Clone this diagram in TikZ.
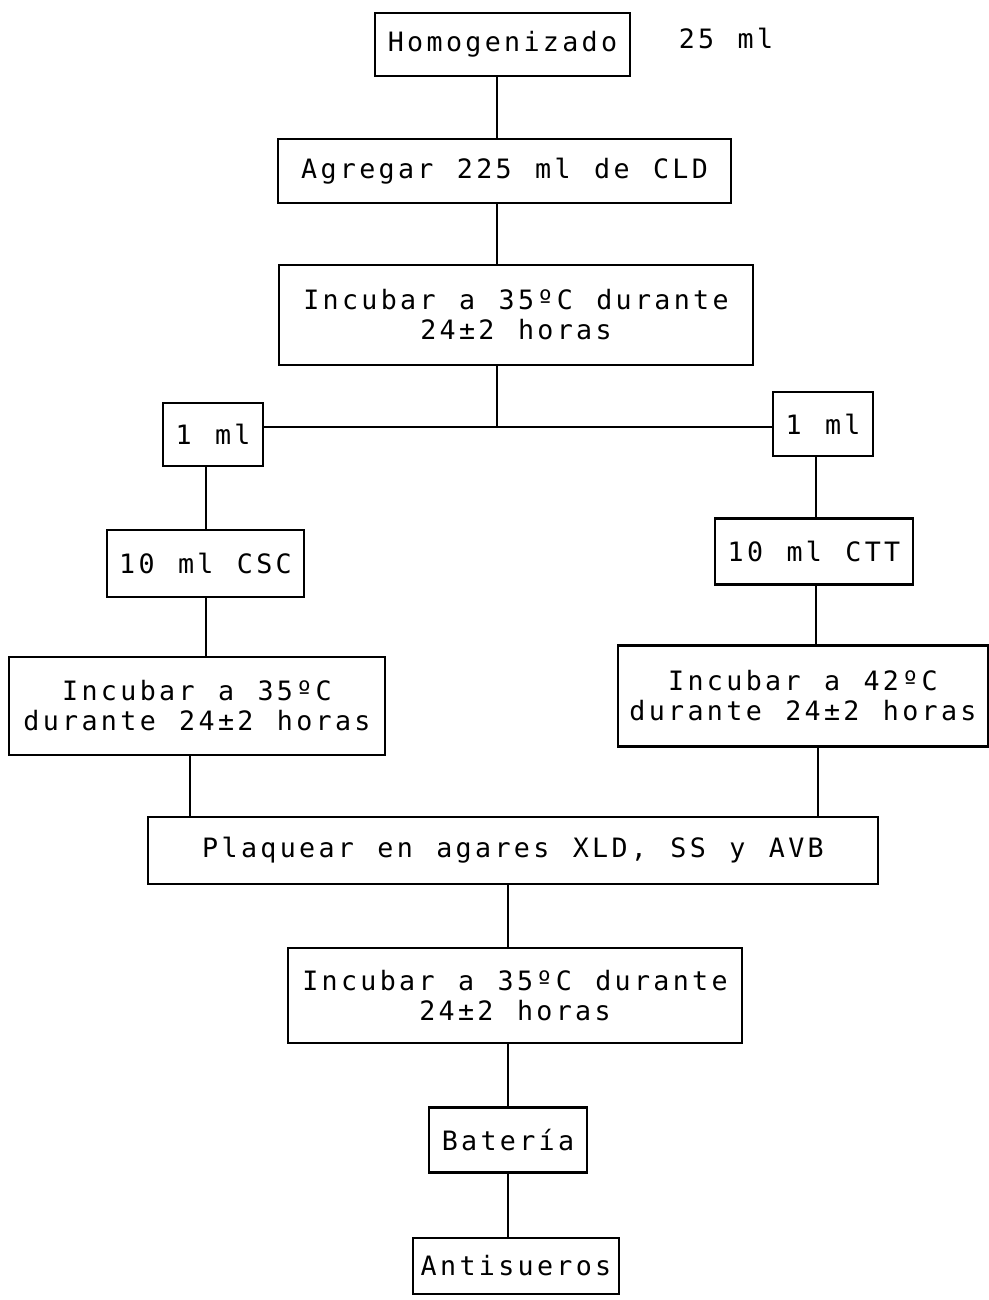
\documentclass[tikz,border=0pt]{standalone}
\usepackage{fontspec}
\newfontfamily\dotmatrix{DejaVu Sans Mono}[LetterSpace=12.5,WordSpace=1.21]

\tikzset{every picture/.style={line width=2.2pt}}
\tikzset{
	box size/.style 2 args={minimum width=#1*0.75pt, minimum height=#2*0.75pt},
	flowbox/.style={draw, rectangle, inner sep=0pt, align=center,
		font=\dotmatrix\fontsize{20}{22.5}\selectfont},
	flowtext/.style={inner sep=0pt, font=\dotmatrix\fontsize{20}{22.5}\selectfont}}

\begin{document}
\begin{tikzpicture}[x=0.75pt,y=0.75pt,yscale=-1,xscale=1]
	\useasboundingbox (0,0) rectangle (989,1300);

	% Column coordinates
	\coordinate (stem) at (497,427);
	\coordinate (stemL) at (206,0);
	\coordinate (stemR) at (816,0);
	\coordinate (dropL) at (190,0);
	\coordinate (dropR) at (818,0);
	\coordinate (stemB) at (508,0);

	% Text Node
	\node[flowbox, box size={255}{63}] (homog) at (502.5,44.5) {Homogenizado};
	% Text Node
	\node[flowtext] (vol) at (726,38) {25 ml};
	% Text Node
	\node[flowbox, box size={453}{64}] (agregar) at (504.5,171) {Agregar 225 ml de CLD};
	% Text Node
	\node[flowbox, box size={474}{100}] (incubA) at (516,315) {Incubar a 35ºC durante\\24±2 horas};
	% Text Node
	\node[flowbox, box size={100}{63}] (unoL) at (213,434.5) {1 ml};
	% Text Node
	\node[flowbox, box size={100}{64}] (unoR) at (823,424) {1 ml};
	% Text Node
	\node[flowbox, box size={197}{67}] (csc) at (205.5,563.5) {10 ml CSC};
	% Text Node
	\node[flowbox, box size={198}{66}] (ctt) at (814,551.5) {10 ml CTT};
	% Text Node
	\node[flowbox, box size={376}{98}] (incubL) at (197,706) {Incubar a 35ºC\\durante 24±2 horas};
	% Text Node
	\node[flowbox, box size={370}{101}] (incubR) at (803,696) {Incubar a 42ºC\\durante 24±2 horas};
	% Text Node
	\node[flowbox, box size={730}{67}] (plaq) at (513,850.5) {Plaquear en agares XLD, SS y AVB};
	% Text Node
	\node[flowbox, box size={454}{95}] (incubB) at (515,995.5) {Incubar a 35ºC durante\\24±2 horas};
	% Text Node
	\node[flowbox, box size={158}{65}] (bat) at (508,1140) {Batería};
	% Text Node
	\node[flowbox, box size={206}{56}] (anti) at (516,1266) {Antisueros};

	%Straight Lines
	\draw (homog.south -| stem) -- (agregar.north -| stem);
	\draw (agregar.south -| stem) -- (incubA.north -| stem);
	\draw (incubA.south -| stem) -- (stem);
	\draw (unoL.east |- stem) -- (unoR.west |- stem);
	%Straight Lines
	\draw (unoL.south -| stemL) -- (csc.north -| stemL);
	\draw (csc.south -| stemL) -- (incubL.north -| stemL);
	\draw (unoR.south -| stemR) -- (ctt.north -| stemR);
	\draw (ctt.south -| stemR) -- (incubR.north -| stemR);
	%Straight Lines
	\draw (incubL.south -| dropL) -- (plaq.north -| dropL);
	\draw (incubR.south -| dropR) -- (plaq.north -| dropR);
	\draw (plaq.south -| stemB) -- (incubB.north -| stemB);
	\draw (incubB.south -| stemB) -- (bat.north -| stemB);
	\draw (bat.south -| stemB) -- (anti.north -| stemB);

\end{tikzpicture}
\end{document}
